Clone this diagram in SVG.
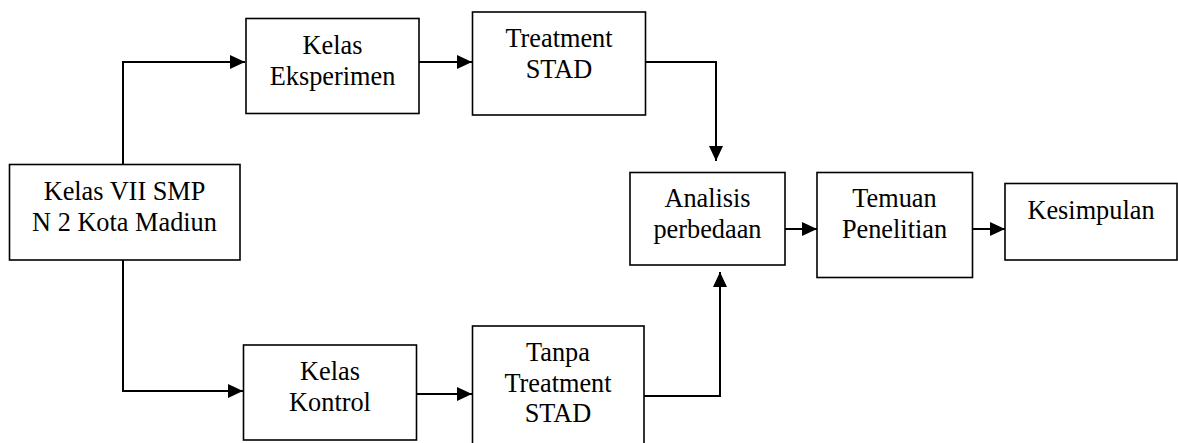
<svg xmlns="http://www.w3.org/2000/svg" width="1178" height="443" viewBox="0 0 1178 443">
<style>
.box{fill:#fff;stroke:#000;stroke-width:1.6}
.t{font-family:"Liberation Serif","Times New Roman",serif;font-size:26.3px;fill:#000;text-anchor:middle}
.c{fill:none;stroke:#000;stroke-width:2}
</style>
<defs>
<marker id="ah" markerUnits="userSpaceOnUse" markerWidth="16" markerHeight="16" viewBox="0 0 16 16" refX="15" refY="8" orient="auto">
<path d="M0,1 L15,8 L0,15 Z" fill="#000"/>
</marker>
</defs>
<rect width="1178" height="443" fill="#fff"/>
<g id="connectors">
<path class="c" d="M123,164 V62 H245" marker-end="url(#ah)"/>
<path class="c" d="M123,260 V391 H243" marker-end="url(#ah)"/>
<path class="c" d="M419,62 H472" marker-end="url(#ah)"/>
<path class="c" d="M645,62 H716 V161" marker-end="url(#ah)"/>
<path class="c" d="M416,394 H472" marker-end="url(#ah)"/>
<path class="c" d="M644,396 H720 V272" marker-end="url(#ah)"/>
<path class="c" d="M785,229 H817" marker-end="url(#ah)"/>
<path class="c" d="M973,229 H1005" marker-end="url(#ah)"/>
</g>
<g id="kelas7">
<rect class="box" x="9.5" y="164.5" width="230.5" height="95.5"/>
<text class="t" x="124.5" y="200">Kelas VII SMP</text>
<text class="t" x="124.5" y="230.5">N 2 Kota Madiun</text>
</g>
<g id="eksperimen">
<rect class="box" x="246" y="18.5" width="173" height="95"/>
<text class="t" x="332.5" y="54">Kelas</text>
<text class="t" x="332.5" y="85">Eksperimen</text>
</g>
<g id="treatment">
<rect class="box" x="472.5" y="12" width="173" height="103"/>
<text class="t" x="559" y="46.5">Treatment</text>
<text class="t" x="559" y="78">STAD</text>
</g>
<g id="kontrol">
<rect class="box" x="243.5" y="345" width="173" height="95"/>
<text class="t" x="330" y="380">Kelas</text>
<text class="t" x="330" y="410.5">Kontrol</text>
</g>
<g id="tanpa">
<rect class="box" x="472.5" y="326" width="171.5" height="130"/>
<text class="t" x="558" y="360.5">Tanpa</text>
<text class="t" x="558" y="391.5">Treatment</text>
<text class="t" x="558" y="421.5">STAD</text>
</g>
<g id="analisis">
<rect class="box" x="630" y="172.5" width="155" height="92.5"/>
<text class="t" x="707.5" y="206.5">Analisis</text>
<text class="t" x="707.5" y="238">perbedaan</text>
</g>
<g id="temuan">
<rect class="box" x="817" y="172.5" width="155.5" height="105"/>
<text class="t" x="894.5" y="207">Temuan</text>
<text class="t" x="894.5" y="238">Penelitian</text>
</g>
<g id="kesimpulan">
<rect class="box" x="1005" y="183.5" width="172" height="76.5"/>
<text class="t" x="1091" y="219">Kesimpulan</text>
</g>
</svg>
